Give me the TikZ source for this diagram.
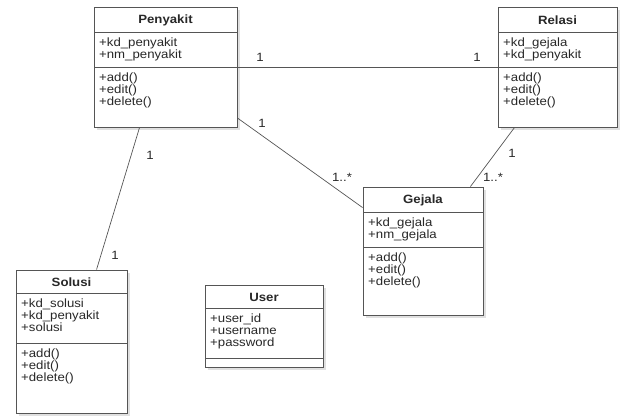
\documentclass[tikz,border=0pt]{standalone}
\usepackage{fontspec}
\setmainfont{Liberation Sans}
\newfontfamily\widefont[FakeStretch=1.1]{Liberation Sans}
\usetikzlibrary{shadows,calc}
\definecolor{boxline}{RGB}{85,85,85}
\definecolor{txt}{RGB}{40,40,40}
\tikzset{
  box/.style={draw=boxline, line width=0.9pt, fill=white, rectangle, inner sep=0pt,
    drop shadow={shadow xshift=3pt, shadow yshift=-3pt, fill=black!12, opacity=1}},
  divider/.style={draw=boxline, line width=0.9pt},
  ttl/.style={font=\widefont\fontsize{12}{12.5}\selectfont\bfseries, text=txt, inner sep=0pt},
  attr/.style={font=\widefont\fontsize{12}{12}\selectfont, text=txt, align=left, anchor=north west, inner sep=0pt},
  conn/.style={draw=boxline, line width=0.7pt},
  mult/.style={font=\widefont\fontsize{12}{12}\selectfont, text=txt, inner sep=0pt}
}
\begin{document}
\begin{tikzpicture}[x=1pt,y=-1pt]
\useasboundingbox (0,0) rectangle (621,415);
% Penyakit
\node[box, minimum width=143pt, minimum height=120pt] (penyakit) at (165.5,67) {};
\draw[divider] (94,32) -- (237,32);
\draw[divider] (94,67) -- (237,67);
\node[ttl] (penyakitT) at (165.5,20) {Penyakit};
\node[attr] (penyakitA) at (99,38) {+kd\_penyakit\\+nm\_penyakit};
\node[attr] (penyakitM) at (99,73) {+add()\\+edit()\\+delete()};
% Relasi
\node[box, minimum width=119pt, minimum height=120pt] (relasi) at (557.5,67) {};
\draw[divider] (498,32) -- (617,32);
\draw[divider] (498,67) -- (617,67);
\node[ttl] (relasiT) at (557.5,20) {Relasi};
\node[attr] (relasiA) at (503,38) {+kd\_gejala\\+kd\_penyakit};
\node[attr] (relasiM) at (503,73) {+add()\\+edit()\\+delete()};
% Gejala
\node[box, minimum width=120pt, minimum height=128pt] (gejala) at (423,251) {};
\draw[divider] (363,212) -- (483,212);
\draw[divider] (363,247) -- (483,247);
\node[ttl] (gejalaT) at (423,200) {Gejala};
\node[attr] (gejalaA) at (368,218) {+kd\_gejala\\+nm\_gejala};
\node[attr] (gejalaM) at (368,253) {+add()\\+edit()\\+delete()};
% Solusi
\node[box, minimum width=111pt, minimum height=143pt] (solusi) at (71.5,341.5) {};
\draw[divider] (16,293) -- (127,293);
\draw[divider] (16,343) -- (127,343);
\node[ttl] (solusiT) at (71.5,282) {Solusi};
\node[attr] (solusiA) at (21,299) {+kd\_solusi\\+kd\_penyakit\\+solusi};
\node[attr] (solusiM) at (21,349) {+add()\\+edit()\\+delete()};
% User
\node[box, minimum width=118pt, minimum height=82pt] (user) at (264,326) {};
\draw[divider] (205,308) -- (323,308);
\draw[divider] (205,358) -- (323,358);
\node[ttl] (userT) at (264,297) {User};
\node[attr] (userA) at (210,314) {+user\_id\\+username\\+password};
% connectors
\draw[conn] (penyakit.east) -- (relasi.west);
\node[mult] (m1) at (260,57) {1};
\node[mult] (m2) at (477,57) {1};
\draw[conn] ([yshift=-51pt]penyakit.east) -- ([yshift=-21pt]gejala.north west);
\node[mult] (m3) at (262,123) {1};
\node[mult] (m4) at (342,177) {1..*};
\draw[conn] ([xshift=17pt]relasi.south west) -- ([xshift=-13pt]gejala.north east);
\node[mult] (m5) at (512,153) {1};
\node[mult] (m6) at (493,177) {1..*};
\draw[conn] ([xshift=46pt]penyakit.south west) -- ([xshift=81pt]solusi.north west);
\node[mult] (m7) at (150,155) {1};
\node[mult] (m8) at (115,255) {1};
\end{tikzpicture}
\end{document}
